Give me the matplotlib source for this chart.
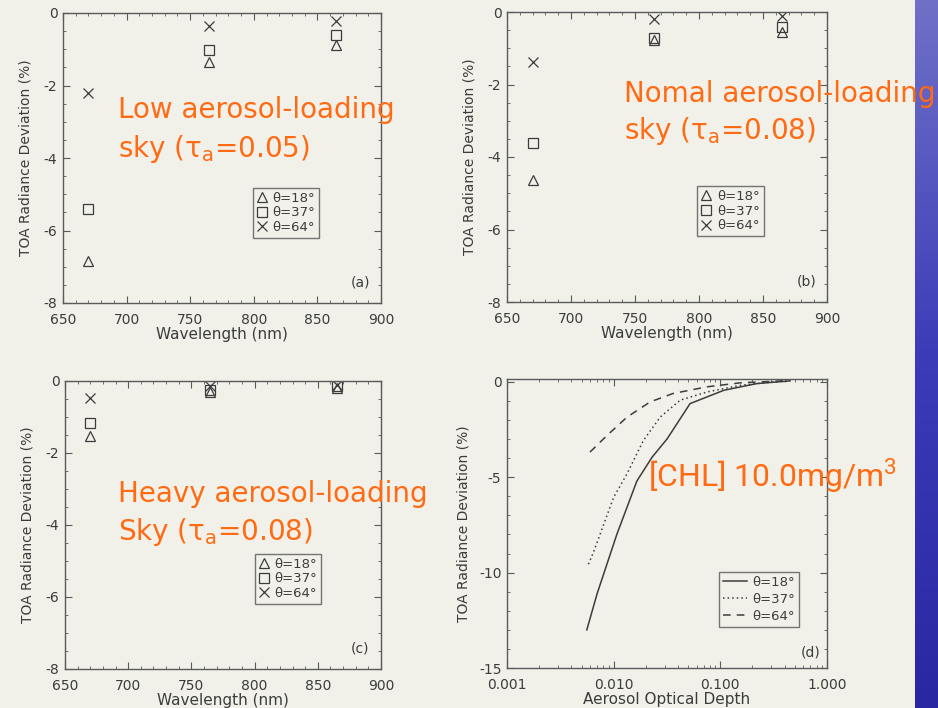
import numpy as np
import matplotlib
matplotlib.use('Agg')
import matplotlib.pyplot as plt
from matplotlib.ticker import MultipleLocator, FixedLocator, FuncFormatter, LogLocator, NullFormatter

plt.rcParams['axes.unicode_minus'] = False

# band centres (nm)
wavelength = [670, 765, 865]

# TOA radiance deviation (%) for the three solar zenith angles
low_18 = [-6.85, -1.35, -0.88]
low_37 = [-5.4, -1.02, -0.62]
low_64 = [-2.2, -0.35, -0.21]

normal_18 = [-4.63, -0.78, -0.55]
normal_37 = [-3.6, -0.72, -0.4]
normal_64 = [-1.39, -0.19, -0.1]

heavy_18 = [-1.52, -0.3, -0.2]
heavy_37 = [-1.16, -0.25, -0.15]
heavy_64 = [-0.47, -0.15, -0.1]

# deviation against aerosol optical depth, [CHL] = 10 mg/m3
aod_18 = [0.0056, 0.0070, 0.0107, 0.0165, 0.0229, 0.0316, 0.052, 0.108, 0.22, 0.45]
dev_18 = [-13.0, -11.1, -8.0, -5.2, -3.95, -3.0, -1.14, -0.44, -0.09, 0.05]
aod_37 = [0.0058, 0.0065, 0.0100, 0.0134, 0.019, 0.0274, 0.042, 0.075, 0.154, 0.316, 0.45]
dev_37 = [-9.56, -8.9, -6.05, -4.8, -3.07, -1.84, -0.96, -0.53, -0.18, 0.0, 0.05]
aod_64 = [0.0060, 0.0087, 0.0134, 0.022, 0.036, 0.075, 0.154, 0.32, 0.45]
dev_64 = [-3.68, -2.8, -1.84, -1.05, -0.61, -0.26, -0.05, 0.03, 0.08]

angle_labels = ['θ=18°', 'θ=37°', 'θ=64°']
panel_tags = ['(a)', '(b)', '(c)', '(d)']

bg = '#f1f1ea'
ink = '#3c3c3c'
orange = '#ff6a12'

fig = plt.figure(figsize=(9.38, 7.08), dpi=100, facecolor=bg)

# blue strip on the right edge
strip = fig.add_axes([915/938, 0, 23/938, 1])
grad = np.linspace(0, 1, 256).reshape(-1, 1)
strip.imshow(grad, aspect='auto', extent=[0, 1, 0, 1],
             cmap=matplotlib.colors.LinearSegmentedColormap.from_list('b', ['#7070c8', '#3c3cb8', '#2a27a2']))
strip.set_axis_off()


def style(ax):
    ax.set_facecolor(bg)
    for s in ax.spines.values():
        s.set_color('#5a5a5a')
        s.set_linewidth(1.0)
    ax.tick_params(which='both', direction='in', top=True, right=True,
                   colors='#5a5a5a', labelcolor=ink, labelsize=10)
    ax.tick_params(which='major', length=5)
    ax.tick_params(which='minor', length=2.5)
    ax.tick_params(axis='x', which='both', pad=7)
    ax.tick_params(axis='y', which='both', pad=4)


def add_legend(ax, xy, handlelength, spacing):
    leg = ax.legend(loc='upper left', bbox_to_anchor=xy, fontsize=9.5, frameon=True,
                    fancybox=False, edgecolor='#555555', facecolor='none', handletextpad=0.4,
                    borderpad=0.3, labelspacing=spacing, handlelength=handlelength, borderaxespad=0)
    leg.get_frame().set_linewidth(1.0)
    for t in leg.get_texts():
        t.set_color(ink)


def wave_panel(rect, s18, s37, s64, tag, leg_xy):
    ax = fig.add_axes(rect)
    ax.plot(wavelength, s18, ls='none', marker='^', mfc='none', mec=ink, ms=6.5, mew=0.9, label=angle_labels[0])
    ax.plot(wavelength, s37, ls='none', marker='s', mfc='none', mec=ink, ms=6.5, mew=0.9, label=angle_labels[1])
    ax.plot(wavelength, s64, ls='none', marker='x', color=ink, ms=6.5, mew=0.9, label=angle_labels[2])
    ax.set_xlim(650, 900)
    ax.set_ylim(-8, 0)
    ax.xaxis.set_major_locator(MultipleLocator(50))
    ax.xaxis.set_minor_locator(MultipleLocator(10))
    ax.yaxis.set_major_locator(MultipleLocator(2))
    ax.yaxis.set_minor_locator(MultipleLocator(0.5))
    ax.set_xlabel('Wavelength (nm)', color=ink, fontsize=11, labelpad=0)
    ax.set_ylabel('TOA Radiance Deviation (%)', color=ink, fontsize=10, labelpad=8)
    style(ax)
    add_legend(ax, leg_xy, 0.8, 0.12)
    ax.text(0.935, 0.07, tag, transform=ax.transAxes, ha='center', va='center', fontsize=10, color=ink)
    return ax


wave_panel([63/938, 1-303/708, 318/938, 290/708], low_18, low_37, low_64, panel_tags[0], (0.597, 0.397))
wave_panel([507/938, 1-302/708, 320/938, 290/708], normal_18, normal_37, normal_64, panel_tags[1], (0.594, 0.40))
wave_panel([65/938, 1-669/708, 316/938, 288/708], heavy_18, heavy_37, heavy_64, panel_tags[2], (0.601, 0.40))

# panel (d): optical depth on a log axis
ax = fig.add_axes([507/938, 1-668/708, 320/938, 289/708])
ax.plot(aod_18, dev_18, color=ink, lw=1.1, ls='-', label=angle_labels[0])
ax.plot(aod_37, dev_37, color=ink, lw=1.1, ls=(0, (1, 2)), label=angle_labels[1])
ax.plot(aod_64, dev_64, color=ink, lw=1.1, ls=(0, (5, 4)), label=angle_labels[2])
ax.set_xscale('log')
ax.set_xlim(0.001, 1.0)
ax.set_ylim(-15, 0.15)
ax.xaxis.set_major_locator(FixedLocator([0.001, 0.01, 0.1, 1.0]))
ax.xaxis.set_major_formatter(FuncFormatter(lambda v, p: '%.3f' % v))
ax.xaxis.set_minor_locator(LogLocator(base=10, subs=np.arange(2, 10)))
ax.xaxis.set_minor_formatter(NullFormatter())
ax.yaxis.set_major_locator(MultipleLocator(5))
ax.yaxis.set_minor_locator(MultipleLocator(1))
ax.set_xlabel('Aerosol Optical Depth', color=ink, fontsize=11, labelpad=0)
ax.set_ylabel('TOA Radiance Deviation (%)', color=ink, fontsize=10, labelpad=6)
style(ax)
add_legend(ax, (0.6625, 0.332), 1.8, 0.3)
ax.text(0.95, 0.052, panel_tags[3], transform=ax.transAxes, ha='center', va='center', fontsize=10, color=ink)

# orange captions
cap = dict(color=orange, fontsize=20, va='baseline', ha='left', family='DejaVu Sans')
fig.text(118/938, 1-118/708, 'Low aerosol-loading', **cap)
fig.text(118/938, 1-157/708, 'sky (τ$_{\\mathregular{a}}$=0.05)', **cap)
fig.text(624/938, 1-102/708, 'Nomal aerosol-loading', **cap)
fig.text(624/938, 1-139/708, 'sky (τ$_{\\mathregular{a}}$=0.08)', **cap)
fig.text(118/938, 1-502/708, 'Heavy aerosol-loading', **cap)
fig.text(118/938, 1-540/708, 'Sky (τ$_{\\mathregular{a}}$=0.08)', **cap)
fig.text(648/938, 1-487/708, '[CHL] 10.0mg/m$^{\\mathregular{3}}$', color=orange, fontsize=23,
         va='baseline', ha='left', family='Roboto')

fig.savefig('out.png', dpi=100, facecolor=bg)
